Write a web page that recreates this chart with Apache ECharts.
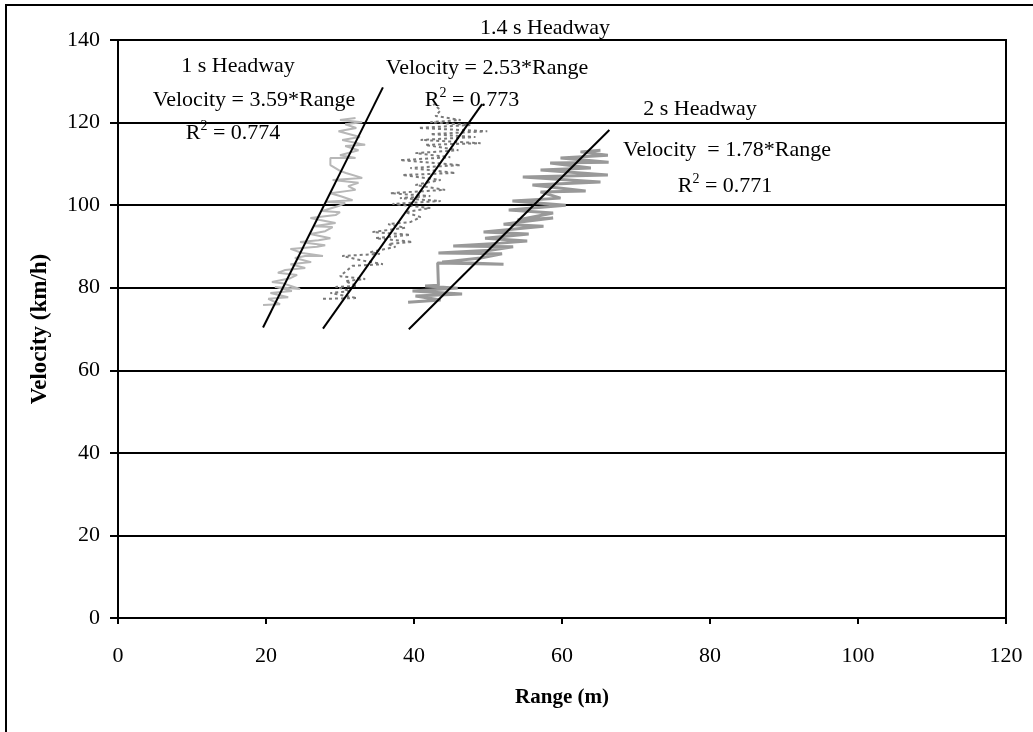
<!DOCTYPE html>
<html>
<head>
<meta charset="utf-8">
<script src="https://cdn.jsdelivr.net/npm/echarts@6/dist/echarts.min.js"></script>
<style>
  html, body { margin: 0; padding: 0; background: #fff; }
  #chart { width: 1033px; height: 732px; }
</style>
</head>
<body>
<div id="chart"></div>
<script>
// Axis ticks
const xTicks = [0, 20, 40, 60, 80, 100, 120];
const yTicks = [0, 20, 40, 60, 80, 100, 120, 140];

// 1 s headway trace: range (m) and velocity (km/h)
const range1 = [19.6,21.9,20.3,23.0,20.6,23.5,21.2,24.6,22.2,20.8,23.3,24.2,21.6,22.6,25.3,23.3,26.1,23.9,25.3,27.7,24.9,23.3,26.9,28.0,24.6,27.1,28.7,26.0,28.0,29.0,26.4,29.4,27.3,26.0,29.4,30.0,27.6,29.8,30.7,28.0,31.7,30.0,28.7,32.1,31.1,32.5,29.0,33.0,30.8,30.0,28.7,28.7,32.1,30.0,32.5,30.7,33.4,30.3,32.7,29.8,32.2,30.7,33.0,30.0,32.1];
const vel1 = [75.8,76.0,77.3,77.7,78.7,79.2,80.2,79.7,81.1,81.4,82.3,83.1,83.6,84.3,84.8,85.7,86.2,87.2,87.7,87.7,88.4,89.4,89.9,90.3,91.1,91.5,92.0,93.0,93.7,94.7,94.9,95.7,96.4,96.9,97.6,98.3,98.6,99.8,100.5,100.8,101.2,102.2,102.9,103.7,104.6,105.4,106.1,106.6,107.8,108.3,109.7,111.4,111.4,112.1,113.3,114.3,114.6,115.8,116.5,117.9,118.7,119.6,120.1,120.6,121.1];

// 1.4 s headway trace
const range2 = [27.7,32.3,28.7,31.4,29.4,32.3,30.7,33.4,30.0,31.7,35.8,32.7,30.3,35.4,34.1,37.5,36.5,39.8,34.8,39.5,34.4,38.8,36.5,39.5,40.9,38.8,42.2,37.1,43.6,38.1,42.2,36.8,44.2,40.2,43.6,38.4,45.6,39.5,46.3,38.1,44.9,40.2,46.0,41.5,49.0,40.9,48.3,42.2,49.9,40.6,47.6,42.2,46.3,42.9,43.6,42.6];
const vel2 = [77.3,77.5,78.7,79.2,80.2,80.4,81.6,82.1,82.8,85.3,85.7,86.7,87.7,88.2,88.6,89.9,90.6,91.1,92.0,92.8,93.5,94.5,95.4,95.9,97.1,98.3,99.3,100.3,101.0,101.7,102.2,102.9,103.7,104.9,106.1,107.3,107.8,109.0,109.7,110.9,111.6,112.6,113.3,114.6,115.0,115.8,116.5,117.2,117.9,118.7,119.4,120.1,120.6,121.6,123.0,124.5];

// 2 s headway trace
const range3 = [39.2,43.6,40.2,46.5,39.8,45.9,41.5,43.3,43.2,52.1,43.8,49.0,51.9,43.3,50.3,53.4,45.3,51.7,55.3,49.6,55.5,49.4,57.5,52.1,58.8,54.0,58.8,52.8,60.5,53.3,59.8,57.1,63.2,56.0,65.2,54.7,66.2,57.1,63.9,58.4,66.3,59.8,66.2,62.5,65.2];
const vel3 = [76.5,77.0,78.0,78.5,79.2,79.9,80.4,80.6,86.0,85.7,86.2,87.2,88.2,88.4,89.1,89.9,90.1,90.8,91.3,92.0,93.0,93.5,94.9,95.4,96.9,96.4,98.1,98.8,100.0,101.0,101.7,103.2,103.4,104.9,105.6,106.8,107.3,108.5,109.0,110.2,110.4,111.4,112.1,112.9,113.3];

// Fitted lines through the origin: Velocity = slope * Range
const headways = ['1 s Headway', '1.4 s Headway', '2 s Headway'];
const fitSlopes = [3.59, 2.53, 1.78];
const fitR2 = [0.774, 0.773, 0.771];
const fitRangeEnds = [[19.6, 35.8], [27.7, 49.2], [39.3, 66.4]];

const pairs = (xs, ys) => xs.map((x, i) => [x, ys[i]]);
const fitLine = i => fitRangeEnds[i].map(r => [r, +(fitSlopes[i] * r).toFixed(2)]);

const serif = '"Liberation Serif", "Times New Roman", serif';
const FS = 22;

function label(text, x, y) {
  return {
    type: 'text', z: 100,
    style: {
      text: text, x: x, y: y, align: 'center', verticalAlign: 'middle',
      fill: '#000', font: FS + 'px ' + serif,
      rich: {
        sup: { fontSize: 14, fontFamily: serif, verticalAlign: 'top', lineHeight: 28, fill: '#000' },
        n: { fontSize: FS, fontFamily: serif, lineHeight: 28, fill: '#000' }
      }
    }
  };
}

const chart = echarts.init(document.getElementById('chart'), null, { renderer: 'canvas' });

chart.setOption({
  animation: false,
  backgroundColor: '#fff',
  grid: {
    left: 118, top: 40, right: 27, bottom: 114,
    show: true, borderColor: '#000', borderWidth: 2, backgroundColor: 'transparent'
  },
  xAxis: {
    type: 'value', min: xTicks[0], max: xTicks[xTicks.length - 1], interval: 20,
    name: 'Range (m)', nameLocation: 'middle', nameGap: 69,
    nameTextStyle: { fontFamily: serif, fontWeight: 'bold', fontSize: 21, color: '#000' },
    axisLine: { show: true, lineStyle: { color: '#000', width: 2 } },
    axisTick: { show: true, length: 6, lineStyle: { color: '#000', width: 2 } },
    axisLabel: { margin: 27, fontFamily: serif, fontSize: FS, color: '#000' },
    splitLine: { show: false }
  },
  yAxis: {
    type: 'value', min: yTicks[0], max: yTicks[yTicks.length - 1], interval: 20,
    name: 'Velocity (km/h)', nameLocation: 'middle', nameGap: 66,
    nameTextStyle: { fontFamily: serif, fontWeight: 'bold', fontSize: 23, color: '#000' },
    axisLine: { show: true, lineStyle: { color: '#000', width: 2 } },
    axisTick: { show: true, length: 8, lineStyle: { color: '#000', width: 2 } },
    axisLabel: { margin: 18, fontFamily: serif, fontSize: FS, color: '#000' },
    splitLine: { show: true, lineStyle: { color: '#000', width: 2 } }
  },
  series: [
    {
      name: headways[0], type: 'line', data: pairs(range1, vel1),
      showSymbol: false, symbol: 'none', z: 3,
      lineStyle: { color: '#b7b7b7', width: 2 }
    },
    {
      name: headways[1], type: 'line', data: pairs(range2, vel2),
      showSymbol: false, symbol: 'none', z: 3,
      lineStyle: { color: '#7a7a7a', width: 2, type: [3, 3] }
    },
    {
      name: headways[2], type: 'line', data: pairs(range3, vel3),
      showSymbol: false, symbol: 'none', z: 3,
      lineStyle: { color: '#999999', width: 3 }
    },
    ...[0, 1, 2].map(i => ({
      name: headways[i] + ' fit', type: 'line', data: fitLine(i),
      showSymbol: false, symbol: 'none', z: 5,
      lineStyle: { color: '#000', width: 2 }
    }))
  ],
  graphic: [
    // frame around the whole figure
    { type: 'rect', z: 0, shape: { x: 6, y: 5, width: 1060, height: 760 },
      style: { fill: null, stroke: '#000', lineWidth: 2 } },
    label(headways[1], 545, 28),
    label(headways[0], 238, 66),
    label('Velocity = ' + fitSlopes[0] + '*Range', 254, 100),
    label('{n|R}{sup|2}{n| = ' + fitR2[0] + '}', 233, 133),
    label('Velocity = ' + fitSlopes[1] + '*Range', 487, 68),
    label('{n|R}{sup|2}{n| = ' + fitR2[1] + '}', 472, 100),
    label(headways[2], 700, 109),
    label('Velocity  = ' + fitSlopes[2] + '*Range', 727, 150),
    label('{n|R}{sup|2}{n| = ' + fitR2[2] + '}', 725, 186)
  ]
});
</script>
</body>
</html>
